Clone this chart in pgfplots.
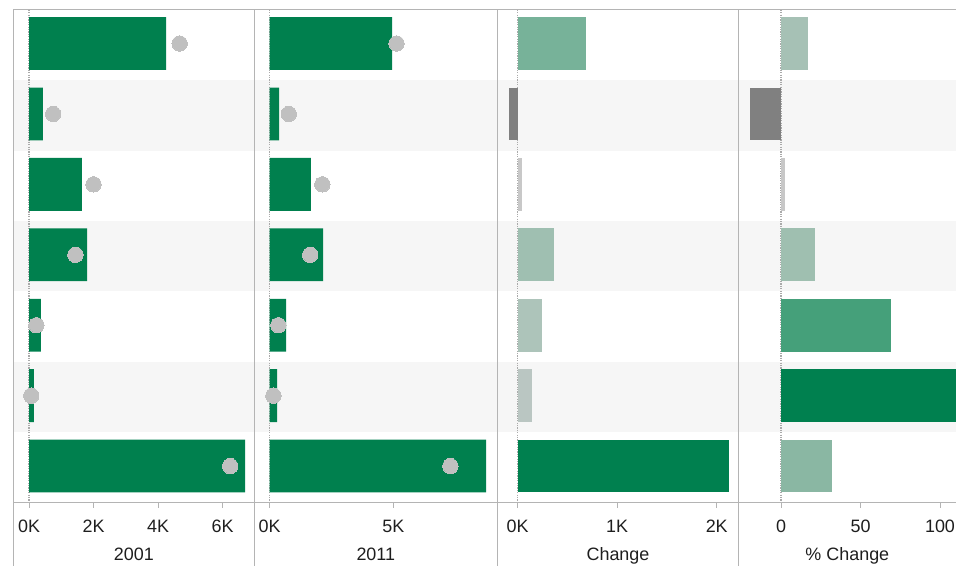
\documentclass[border=0pt]{standalone}
\usepackage{fontspec}
\setmainfont{Liberation Sans}
\usepackage{pgfplots}
\usepackage{pgfplotstable}
\pgfplotsset{compat=1.18}

\definecolor{mainG}{RGB}{0,128,78}
\definecolor{dotG}{RGB}{192,192,192}
\definecolor{bandG}{RGB}{246,246,246}
\definecolor{frameG}{RGB}{180,180,180}
\definecolor{zeroG}{RGB}{170,170,170}
\definecolor{txt}{RGB}{30,30,30}
\definecolor{cA1}{RGB}{119,178,153}
\definecolor{cA2}{RGB}{128,128,128}
\definecolor{cA3}{RGB}{200,200,200}
\definecolor{cA4}{RGB}{159,191,177}
\definecolor{cA5}{RGB}{173,196,186}
\definecolor{cA6}{RGB}{186,198,194}
\definecolor{cA7}{RGB}{0,128,79}
\definecolor{cB1}{RGB}{166,193,181}
\definecolor{cB2}{RGB}{128,128,128}
\definecolor{cB3}{RGB}{200,200,200}
\definecolor{cB4}{RGB}{159,191,176}
\definecolor{cB5}{RGB}{69,160,122}
\definecolor{cB6}{RGB}{0,128,79}
\definecolor{cB7}{RGB}{138,183,163}

% row, bar value, dot value
\pgfplotstableread{
row bar dot
1 4.25 4.67
2 0.43 0.75
3 1.64 2.00
4 1.80 1.44
5 0.37 0.23
6 0.15 0.07
7 6.70 6.24
}\tabA
\pgfplotstableread{
row bar dot
1 4.95 5.13
2 0.38 0.77
3 1.67 2.13
4 2.16 1.64
5 0.66 0.35
6 0.30 0.15
7 8.75 7.31
}\tabB

\tikzset{zl/.style={draw=zeroG, line width=1.1bp, dash pattern=on 1.2bp off 1.2bp}}
\pgfplotsset{
  panel/.style={
    scale only axis, height=493bp, anchor=south west,
    y dir=reverse, ymin=0.52, ymax=7.52, ytick=\empty,
    axis line style={draw=none},
    xtick pos=bottom, tick align=outside, major tick length=5bp,
    xtick style={draw=frameG, line width=1bp},
    ticklabel style={font=\fontsize{18}{20}\selectfont, text=txt},
    xticklabel style={anchor=base, yshift=-25bp},
    xlabel style={font=\fontsize{18}{20}\selectfont, text=txt, at={(axis description cs:0.5,0)}, anchor=base, yshift=-57.3bp},
  },
  hb/.style={xbar, bar width=0.75, bar shift=0pt, draw=none, fill=#1},
  dots/.style={only marks, color=dotG, mark=*, mark size=7.7bp, mark options={fill=dotG, draw=dotG, line width=0pt}},
}

\begin{document}
\begin{tikzpicture}
% alternating row bands
\fill[bandG] (13.5bp,415.4bp) rectangle (956bp,485.9bp);
\fill[bandG] (13.5bp,274.6bp) rectangle (956bp,345.0bp);
\fill[bandG] (13.5bp,133.7bp) rectangle (956bp,204.1bp);

% 2001
\begin{axis}[panel, at={(13.5bp,63.3bp)}, width=240.8bp,
  xmin=-0.481, xmax=6.986, xtick={0,2,4,6}, xticklabels={0K,2K,4K,6K}, xlabel={2001}]
\draw[zl] (axis cs:0,0.52) -- (axis cs:0,7.52);
\addplot[hb=mainG] table[x=bar, y=row] {\tabA};
\addplot[dots] table[x=dot, y=row] {\tabA};
\end{axis}

% 2011
\begin{axis}[panel, at={(254.3bp,63.3bp)}, width=243bp,
  xmin=-0.623, xmax=9.207, xtick={0,5}, xticklabels={0K,5K}, xlabel={2011}]
\draw[zl] (axis cs:0,0.52) -- (axis cs:0,7.52);
\addplot[hb=mainG] table[x=bar, y=row] {\tabB};
\addplot[dots] table[x=dot, y=row] {\tabB};
\end{axis}

% Change
\begin{axis}[panel, at={(497.3bp,63.3bp)}, width=241.4bp,
  xmin=-0.205, xmax=2.221, xtick={0,1,2}, xticklabels={0K,1K,2K}, xlabel={Change}]
\draw[zl] (axis cs:0,0.52) -- (axis cs:0,7.52);
\addplot[hb=cA1] coordinates {(0.686,1)};
\addplot[hb=cA2] coordinates {(-0.087,2)};
\addplot[hb=cA3] coordinates {(0.043,3)};
\addplot[hb=cA4] coordinates {(0.365,4)};
\addplot[hb=cA5] coordinates {(0.244,5)};
\addplot[hb=cA6] coordinates {(0.144,6)};
\addplot[hb=cA7] coordinates {(2.124,7)};
\end{axis}

% % Change
\begin{axis}[panel, at={(738.7bp,63.3bp)}, width=217.3bp,
  xmin=-26.6, xmax=110.06, xtick={0,50,100}, xticklabels={0,50,100}, xlabel={\% Change}]
\draw[zl] (axis cs:0,0.52) -- (axis cs:0,7.52);
\addplot[hb=cB1] coordinates {(17,1)};
\addplot[hb=cB2] coordinates {(-19.5,2)};
\addplot[hb=cB3] coordinates {(2.5,3)};
\addplot[hb=cB4] coordinates {(21.4,4)};
\addplot[hb=cB5] coordinates {(69,5)};
\addplot[hb=cB6] coordinates {(125,6)};
\addplot[hb=cB7] coordinates {(32,7)};
\end{axis}

% frame lines
\draw[frameG, line width=1.2bp] (13.5bp,0) -- (13.5bp,556.3bp) -- (956bp,556.3bp);
\draw[frameG, line width=1.2bp] (13.5bp,63.3bp) -- (956bp,63.3bp);
\foreach \xx in {254.3,497.3,738.7} {
  \draw[frameG, line width=1.2bp] (\xx bp,0) -- (\xx bp,556.3bp);
}
\pgfresetboundingbox
\useasboundingbox (0,0) rectangle (956bp,566bp);
\end{tikzpicture}
\end{document}
